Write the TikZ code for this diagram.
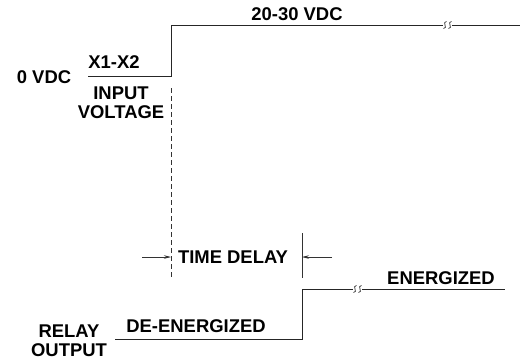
\documentclass[tikz,border=0pt]{standalone}
\usepackage{fontspec}
\setmainfont{Liberation Sans}
\usetikzlibrary{arrows.meta}
\tikzset{
  wave/.style={line width=0.9bp,black!85},
  lbl/.style={font=\bfseries\fontsize{18.5}{19}\selectfont,inner sep=0pt,align=center},
  guide/.style={line width=0.6bp,black!80},
  brk/.style={line width=0.7bp,black!85}
}
% two small s-shaped break marks centred at (#1,#2)
\newcommand{\breakmark}[2]{%
  \foreach \dx in {-2.5,2.5}
    \draw[brk] ({#1+\dx+1.5},{#2-3.5}) .. controls ({#1+\dx-3.5},{#2-3.5}) and ({#1+\dx+3.5},{#2+3.5}) .. ({#1+\dx-1.5},{#2+3.5});
}
\begin{document}
\begin{tikzpicture}[x=1bp,y=-1bp]
\useasboundingbox (0,0) rectangle (520,363);
% input voltage
\coordinate (in0) at (88,76);
\coordinate (in1) at (171,76);
\coordinate (in2) at (171,25);
\coordinate (inb1) at (443,25);
\coordinate (inb2) at (452,25);
\coordinate (in3) at (520,25);
\draw[wave] (in0) -- (in1) -- (in2) -- (inb1);
\draw[wave] (inb2) -- (in3);
\breakmark{447.5}{25}
\node[lbl] (vlow) at (44,77) {0 VDC};
\node[lbl] (term) at (114,62) {X1-X2};
\node[lbl] (inp) at (121,103) {INPUT\\VOLTAGE};
\node[lbl] (vhigh) at (297,14) {20-30 VDC};
% relay output
\coordinate (out0) at (115,339);
\coordinate (out1) at (302,339);
\coordinate (out2) at (302,289);
\coordinate (outb1) at (353,289);
\coordinate (outb2) at (362,289);
\coordinate (out3) at (505,289);
\draw[wave] (out0) -- (out1) -- (out2) -- (outb1);
\draw[wave] (outb2) -- (out3);
\breakmark{357.5}{289}
\node[lbl] (relay) at (69,341) {RELAY\\OUTPUT};
\node[lbl] (deen) at (196,326) {DE-ENERGIZED};
\node[lbl] (en) at (441,278) {ENERGIZED};
% time delay
\coordinate (dtop) at (171,88);
\coordinate (dbot) at (171,278);
\coordinate (rtop) at (302,233);
\coordinate (rbot) at (302,278);
\draw[guide,dash pattern=on 5bp off 3bp] (dtop) -- (dbot);
\draw[guide] (rtop) -- (rbot);
\node[lbl] (td) at (233,257) {TIME DELAY};
\coordinate (la) at (142,257);
\coordinate (ra) at (332,257);
\draw[guide,-{Stealth[length=7bp,width=3.5bp]}] (la) -- (la -| dtop);
\draw[guide,-{Stealth[length=7bp,width=3.5bp]}] (ra) -- (ra -| rtop);
\end{tikzpicture}
\end{document}
